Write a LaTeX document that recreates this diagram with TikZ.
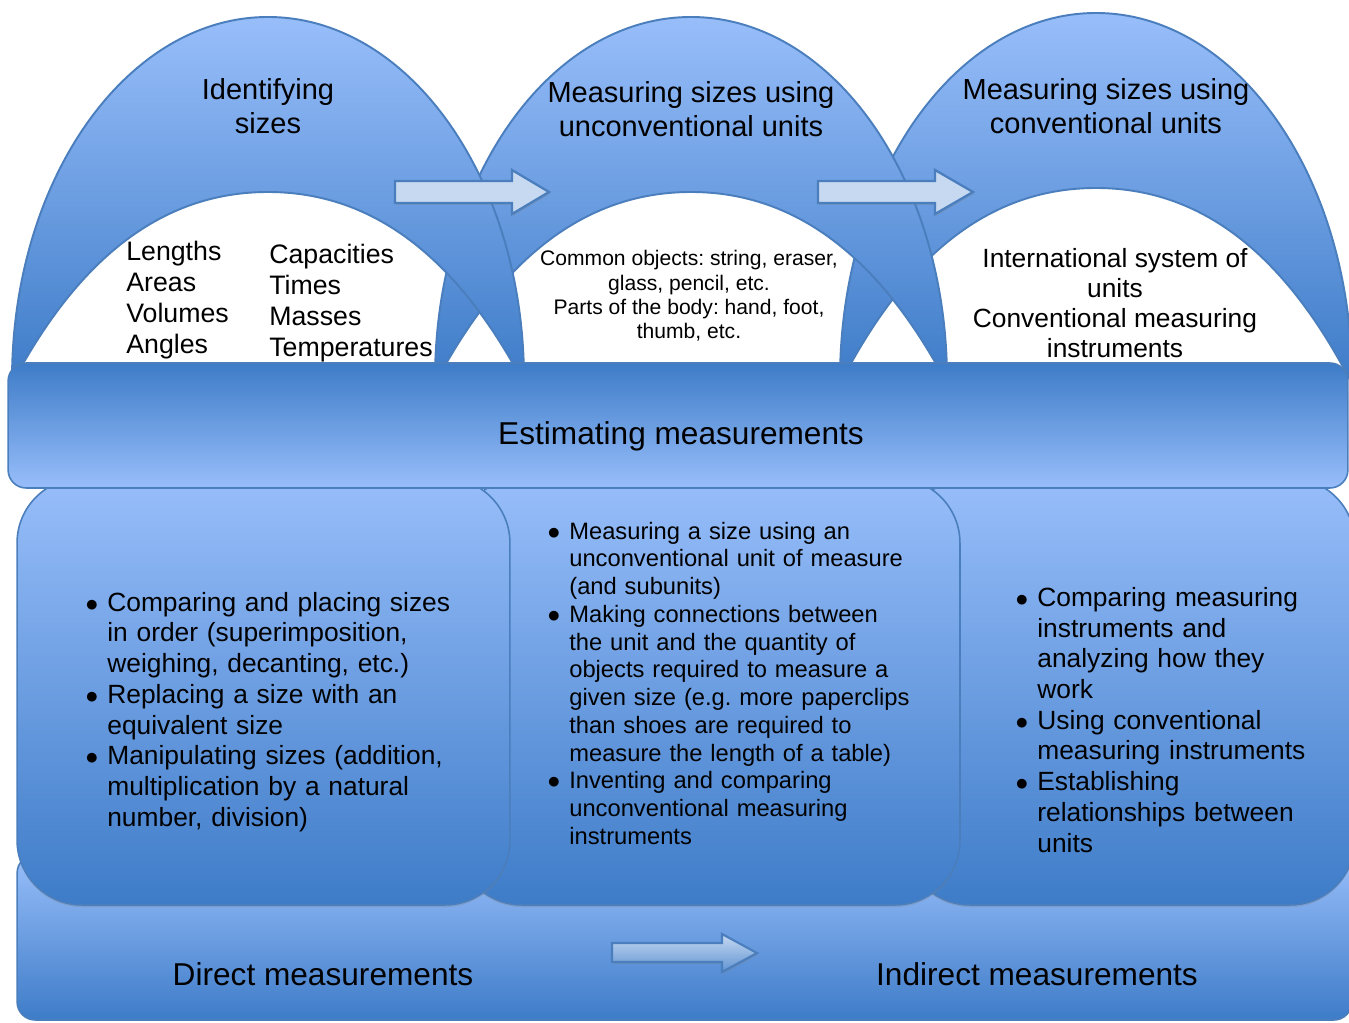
\documentclass[tikz,border=0pt]{standalone}
\usepackage{fontspec}
\setmainfont{Liberation Sans}
\usetikzlibrary{shadows}
\definecolor{archlight}{RGB}{152,190,250}
\definecolor{archdark}{RGB}{62,124,200}
\definecolor{archedge}{RGB}{74,126,188}
\definecolor{arrowfill}{RGB}{198,217,241}
\frenchspacing
\newenvironment{skilllist}{%
  \begin{list}{$\bullet$}{%
    \setlength{\leftmargin}{0.44cm}%
    \setlength{\labelwidth}{0.26cm}%
    \setlength{\labelsep}{0.18cm}%
    \setlength{\itemsep}{0pt}%
    \setlength{\parsep}{0pt}%
    \setlength{\topsep}{0pt}%
    \setlength{\partopsep}{0pt}}}%
  {\end{list}}
\tikzset{
  archband/.style={
    draw=archedge,
    line width=1.1pt,
    top color=archlight,
    bottom color=archdark
  },
  stagearrow/.style={
    draw=archedge,
    line width=1.3pt,
    fill=arrowfill,
    drop shadow={opacity=0.3,shadow xshift=0.7pt,shadow yshift=-1pt}
  },
  measurearrow/.style={
    draw=archedge,
    line width=1.2pt,
    top color=arrowfill,
    bottom color=archdark!75!arrowfill,
    drop shadow={opacity=0.3,shadow xshift=0.7pt,shadow yshift=-1pt}
  },
  colbox/.style={
    draw=archedge,
    line width=0.9pt,
    rounded corners=1.3cm,
    top color=archlight,
    bottom color=archdark,
    inner sep=0pt,
    minimum height=8.54cm,
    drop shadow={opacity=0.3,shadow xshift=0pt,shadow yshift=-1.2pt}
  },
  barbox/.style={
    draw=archedge,
    line width=0.9pt,
    rounded corners=0.36cm,
    inner sep=0pt
  },
  titletext/.style={align=center,font=\fontsize{16.5}{19.3}\selectfont},
  kindtext/.style={anchor=west,align=left,inner sep=0pt,font=\fontsize{15.2}{17.5}\selectfont},
  unittext/.style={align=center,inner sep=0pt},
  skilltext/.style={anchor=west,align=left,inner sep=0pt,text width=8cm},
  bartext/.style={font=\fontsize{18}{21}\selectfont}
}

\begin{document}
\begin{tikzpicture}[x=0.02cm,y=-0.02cm]
  \useasboundingbox (0,0) rectangle (1349,1023);

  \node[barbox,top color=archlight,bottom color=archdark,minimum width=26.7cm,minimum height=3.3cm] (measbar) at (684.5,937.5) {};

  \node[colbox,minimum width=9cm] (col3) at (1130,691.5) {};
  \node[colbox,minimum width=10.06cm] (col2) at (708.5,691.5) {};
  \node[colbox,minimum width=9.86cm] (col1) at (263.5,691.5) {};

  \draw[archband] (840,380) .. controls (840,177) and (955,13) .. (1096,13)
    .. controls (1237,13) and (1352,177) .. (1352,380) -- (1350,380)
    .. controls (1276,238) and (1188,188) .. (1096,188)
    .. controls (1004,188) and (916,238) .. (842,380) -- cycle;
  \draw[archband] (435,380) .. controls (435,179) and (550,17) .. (691,17)
    .. controls (832,17) and (947,179) .. (947,380) -- (945,380)
    .. controls (871,242) and (783,192) .. (691,192)
    .. controls (599,192) and (511,242) .. (437,380) -- cycle;
  \draw[archband] (12,380) .. controls (12,179) and (127,17) .. (268,17)
    .. controls (409,17) and (524,179) .. (524,380) -- (522,380)
    .. controls (448,242) and (360,192) .. (268,192)
    .. controls (176,192) and (88,242) .. (14,380) -- cycle;

  \draw[stagearrow] (395,181) -- (512,181) -- (512,170) -- (549,192) -- (512,214) -- (512,203) -- (395,203) -- cycle;
  \draw[stagearrow] (818,181) -- (935,181) -- (935,170) -- (973,192) -- (935,214) -- (935,203) -- (818,203) -- cycle;

  \node[barbox,top color=archdark,bottom color=archlight,minimum width=26.8cm,minimum height=2.5cm] (estbar) at (678,425.5) {};
  \node[bartext] (estimating) at (681,436) {Estimating measurements};

  \node[titletext] (identify) at (268,106) {Identifying\\sizes};
  \node[titletext] (unconv) at (691,109) {Measuring sizes using\\unconventional units};
  \node[titletext] (conv) at (1106,106) {Measuring sizes using\\conventional units};

  \node[kindtext] (kinds1) at (126,300) {Lengths\\Areas\\Volumes\\Angles};
  \node[kindtext] (kinds2) at (269,303) {Capacities\\Times\\Masses\\Temperatures};
  \node[unittext,font=\fontsize{12}{13.8}\selectfont] (objects) at (689,296) {Common objects: string, eraser,\\glass, pencil, etc.\\Parts of the body: hand, foot,\\thumb, etc.};
  \node[unittext,font=\fontsize{15}{17.2}\selectfont] (system) at (1115,303) {International system of\\units\\Conventional measuring\\instruments};

  \node[skilltext,font=\fontsize{15}{17.5}\selectfont] (skills1) at (85,706) {%
    \begin{skilllist}
      \item Comparing and placing sizes\\in order (superimposition,\\weighing, decanting, etc.)
      \item Replacing a size with an\\equivalent size
      \item Manipulating sizes (addition,\\multiplication by a natural\\number, division)
    \end{skilllist}};
  \node[skilltext,font=\fontsize{13.5}{15.8}\selectfont] (skills2) at (547,678) {%
    \begin{skilllist}
      \item Measuring a size using an\\unconventional unit of measure\\(and subunits)
      \item Making connections between\\the unit and the quantity of\\objects required to measure a\\given size (e.g. more paperclips\\than shoes are required to\\measure the length of a table)
      \item Inventing and comparing\\unconventional measuring\\instruments
    \end{skilllist}};
  \node[skilltext,font=\fontsize{15}{17.5}\selectfont] (skills3) at (1015,714) {%
    \begin{skilllist}
      \item Comparing measuring\\instruments and\\analyzing how they\\work
      \item Using conventional\\measuring instruments
      \item Establishing\\relationships between\\units
    \end{skilllist}};

  \draw[measurearrow] (612,943) -- (722,943) -- (722,934) -- (757,953) -- (722,972) -- (722,962) -- (612,962) -- cycle;
  \node[bartext] (direct) at (323,974) {Direct measurements};
  \node[bartext] (indirect) at (1037,974) {Indirect measurements};
\end{tikzpicture}
\end{document}
